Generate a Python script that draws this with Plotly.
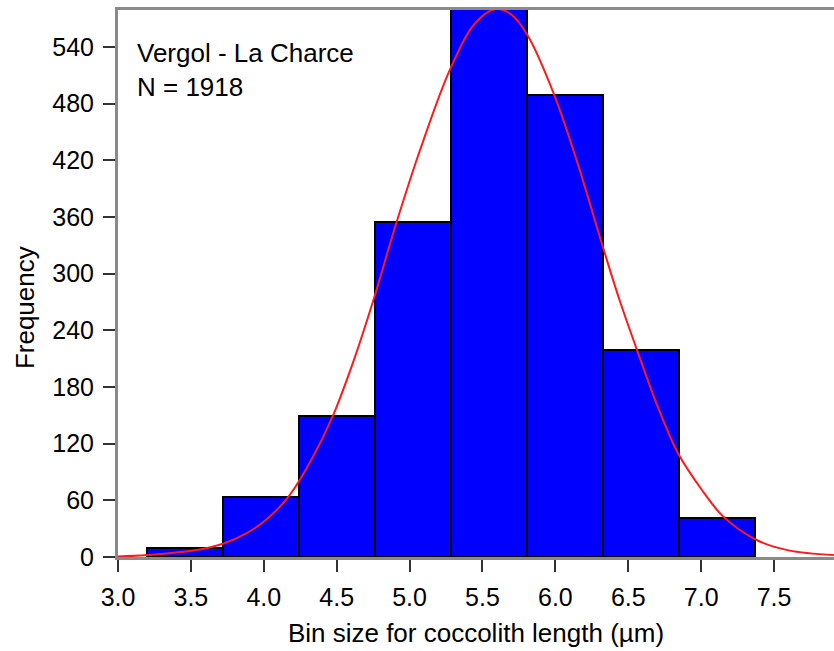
import plotly.graph_objects as go

# Histogram data
bin_centers = [3.4605, 3.9815, 4.5025, 5.0235, 5.5445, 6.0655, 6.5865, 7.1075]
bin_width = 0.521
frequency = [10, 64, 149, 355, 591, 489, 219, 41]

# Fitted normal curve
curve_x = [3.00, 3.20, 3.56, 3.72, 3.88, 4.02, 4.17, 4.32, 4.47, 4.61, 4.75, 4.91, 5.07,
           5.28, 5.45, 5.59, 5.70, 5.81, 5.99, 6.15, 6.33, 6.44, 6.56, 6.70, 6.84, 7.00,
           7.15, 7.38, 7.60, 7.91]
curve_y = [0.5, 2, 8, 14, 25, 40, 64, 101, 148, 205, 271, 354, 430,
           517, 565, 580, 574, 552, 490, 418, 326, 272, 219, 160, 110, 72,
           43, 18, 7, 2]

y_ticks = [0, 60, 120, 180, 240, 300, 360, 420, 480, 540]
x_ticks = [3.0, 3.5, 4.0, 4.5, 5.0, 5.5, 6.0, 6.5, 7.0, 7.5]

FONT = "Liberation Sans, Arial, sans-serif"

fig = go.Figure()
fig.add_trace(go.Bar(
    x=bin_centers, y=frequency, width=[bin_width] * len(bin_centers),
    marker=dict(color="#0000FF", line=dict(color="black", width=2)),
    showlegend=False, hoverinfo="x+y",
))
fig.add_trace(go.Scatter(
    x=curve_x, y=curve_y, mode="lines",
    line=dict(color="#FF1A1A", width=2, shape="spline", smoothing=1.0),
    showlegend=False,
))

fig.update_layout(
    width=834, height=651,
    margin=dict(l=118, r=0, t=10, b=94),
    paper_bgcolor="white", plot_bgcolor="white",
    font=dict(family=FONT, size=25, color="black"),
    bargap=0,
)
fig.update_xaxes(
    range=[3.0, 7.911], tickvals=x_ticks, ticktext=[f"{v:.1f}" for v in x_ticks],
    showgrid=False, zeroline=False,
    showline=True, linecolor="#8a8a8a", linewidth=3, mirror=True,
    ticks="outside", ticklen=12, tickwidth=2, tickcolor="#333333",
    tickfont=dict(size=25), ticklabelstandoff=4,
    title=dict(text="Bin size for coccolith length (µm)", font=dict(size=26), standoff=14),
)
fig.update_yaxes(
    range=[0, 579], tickvals=y_ticks,
    showgrid=False, zeroline=False,
    showline=True, linecolor="#8a8a8a", linewidth=3,
    ticks="outside", ticklen=12, tickwidth=2, tickcolor="#333333",
    tickfont=dict(size=25), ticklabelstandoff=4,
)
fig.add_annotation(
    text="Frequency", textangle=-90, xref="paper", yref="paper",
    x=0, y=0.455, xshift=-93, xanchor="center", yanchor="middle",
    showarrow=False, font=dict(size=26),
)
fig.add_annotation(
    text="Vergol - La Charce<br>N = 1918", xref="paper", yref="paper",
    x=0, y=1, xshift=17, yshift=-26, xanchor="left", yanchor="top", align="left",
    showarrow=False, font=dict(size=26),
)

fig.write_html("out.html")
